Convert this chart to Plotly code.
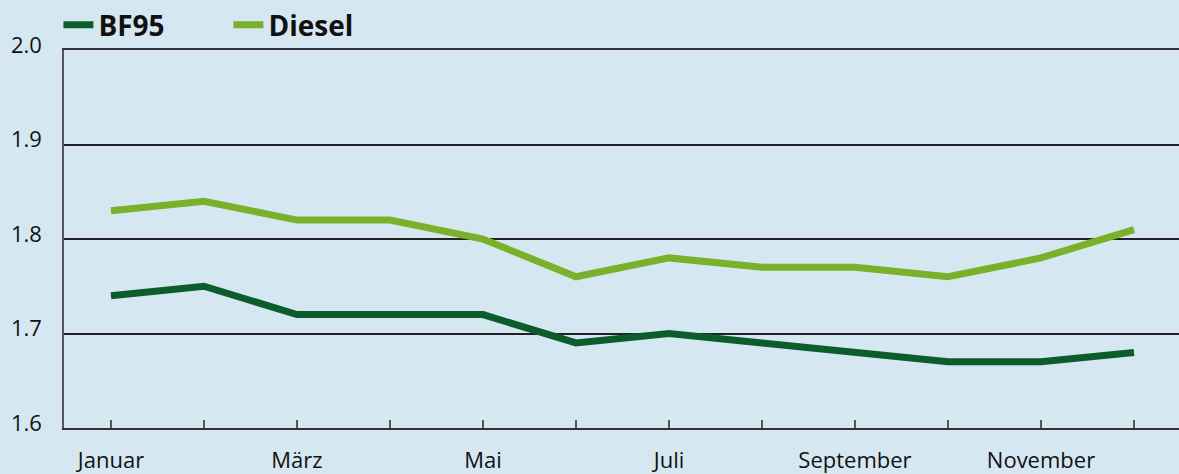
import plotly.graph_objects as go

months = ["Januar", "Februar", "März", "April", "Mai", "Juni", "Juli",
          "August", "September", "Oktober", "November", "Dezember"]
tick_labels = ["Januar", "", "März", "", "Mai", "", "Juli", "", "September", "", "November", ""]
bf95 = [1.74, 1.75, 1.72, 1.72, 1.72, 1.69, 1.70, 1.69, 1.68, 1.67, 1.67, 1.68]
diesel = [1.83, 1.84, 1.82, 1.82, 1.80, 1.76, 1.78, 1.77, 1.77, 1.76, 1.78, 1.81]
y_ticks = [1.6, 1.7, 1.8, 1.9, 2.0]

x = list(range(len(months)))
bg = "#d5e8f1"

fig = go.Figure()
fig.add_trace(go.Scatter(x=x, y=bf95, name="BF95", mode="lines",
                         line=dict(color="#0b5e2b", width=7)))
fig.add_trace(go.Scatter(x=x, y=diesel, name="Diesel", mode="lines",
                         line=dict(color="#7ab02a", width=7)))

fig.update_layout(
    width=1179, height=474,
    paper_bgcolor=bg, plot_bgcolor=bg,
    margin=dict(l=64, r=0, t=49, b=44),
    font=dict(family="Open Sans", size=22, color="#111111"),
    showlegend=True,
    legend=dict(orientation="h", x=-0.005, y=1.0, xanchor="left", yanchor="bottom",
                font=dict(size=28, family="Open Sans", color="#111111", weight="bold"),
                bgcolor="rgba(0,0,0,0)", entrywidth=125, traceorder="normal"),
)
fig.update_xaxes(
    range=[-0.505, 11.484],
    tickmode="array", tickvals=x, ticktext=tick_labels,
    ticks="inside", ticklen=8, tickcolor="#555555", tickwidth=1.5,
    showline=True, linecolor="#333333", linewidth=1.5, mirror=True,
    showgrid=False, zeroline=False, ticklabelstandoff=12,
)
fig.update_yaxes(
    range=[1.6, 2.0],
    tickmode="array", tickvals=y_ticks, ticktext=[f"{v:.1f}" for v in y_ticks],
    showgrid=True, gridcolor="#222222", gridwidth=1.5,
    showline=True, linecolor="#555555", linewidth=1.5,
    ticks="", zeroline=False, ticklabelstandoff=16, ticklabelshift=-5,
)

fig.write_html("out.html", config={"displayModeBar": False},
               post_script="document.body.style.margin='0';document.body.style.background='%s';" % bg)
